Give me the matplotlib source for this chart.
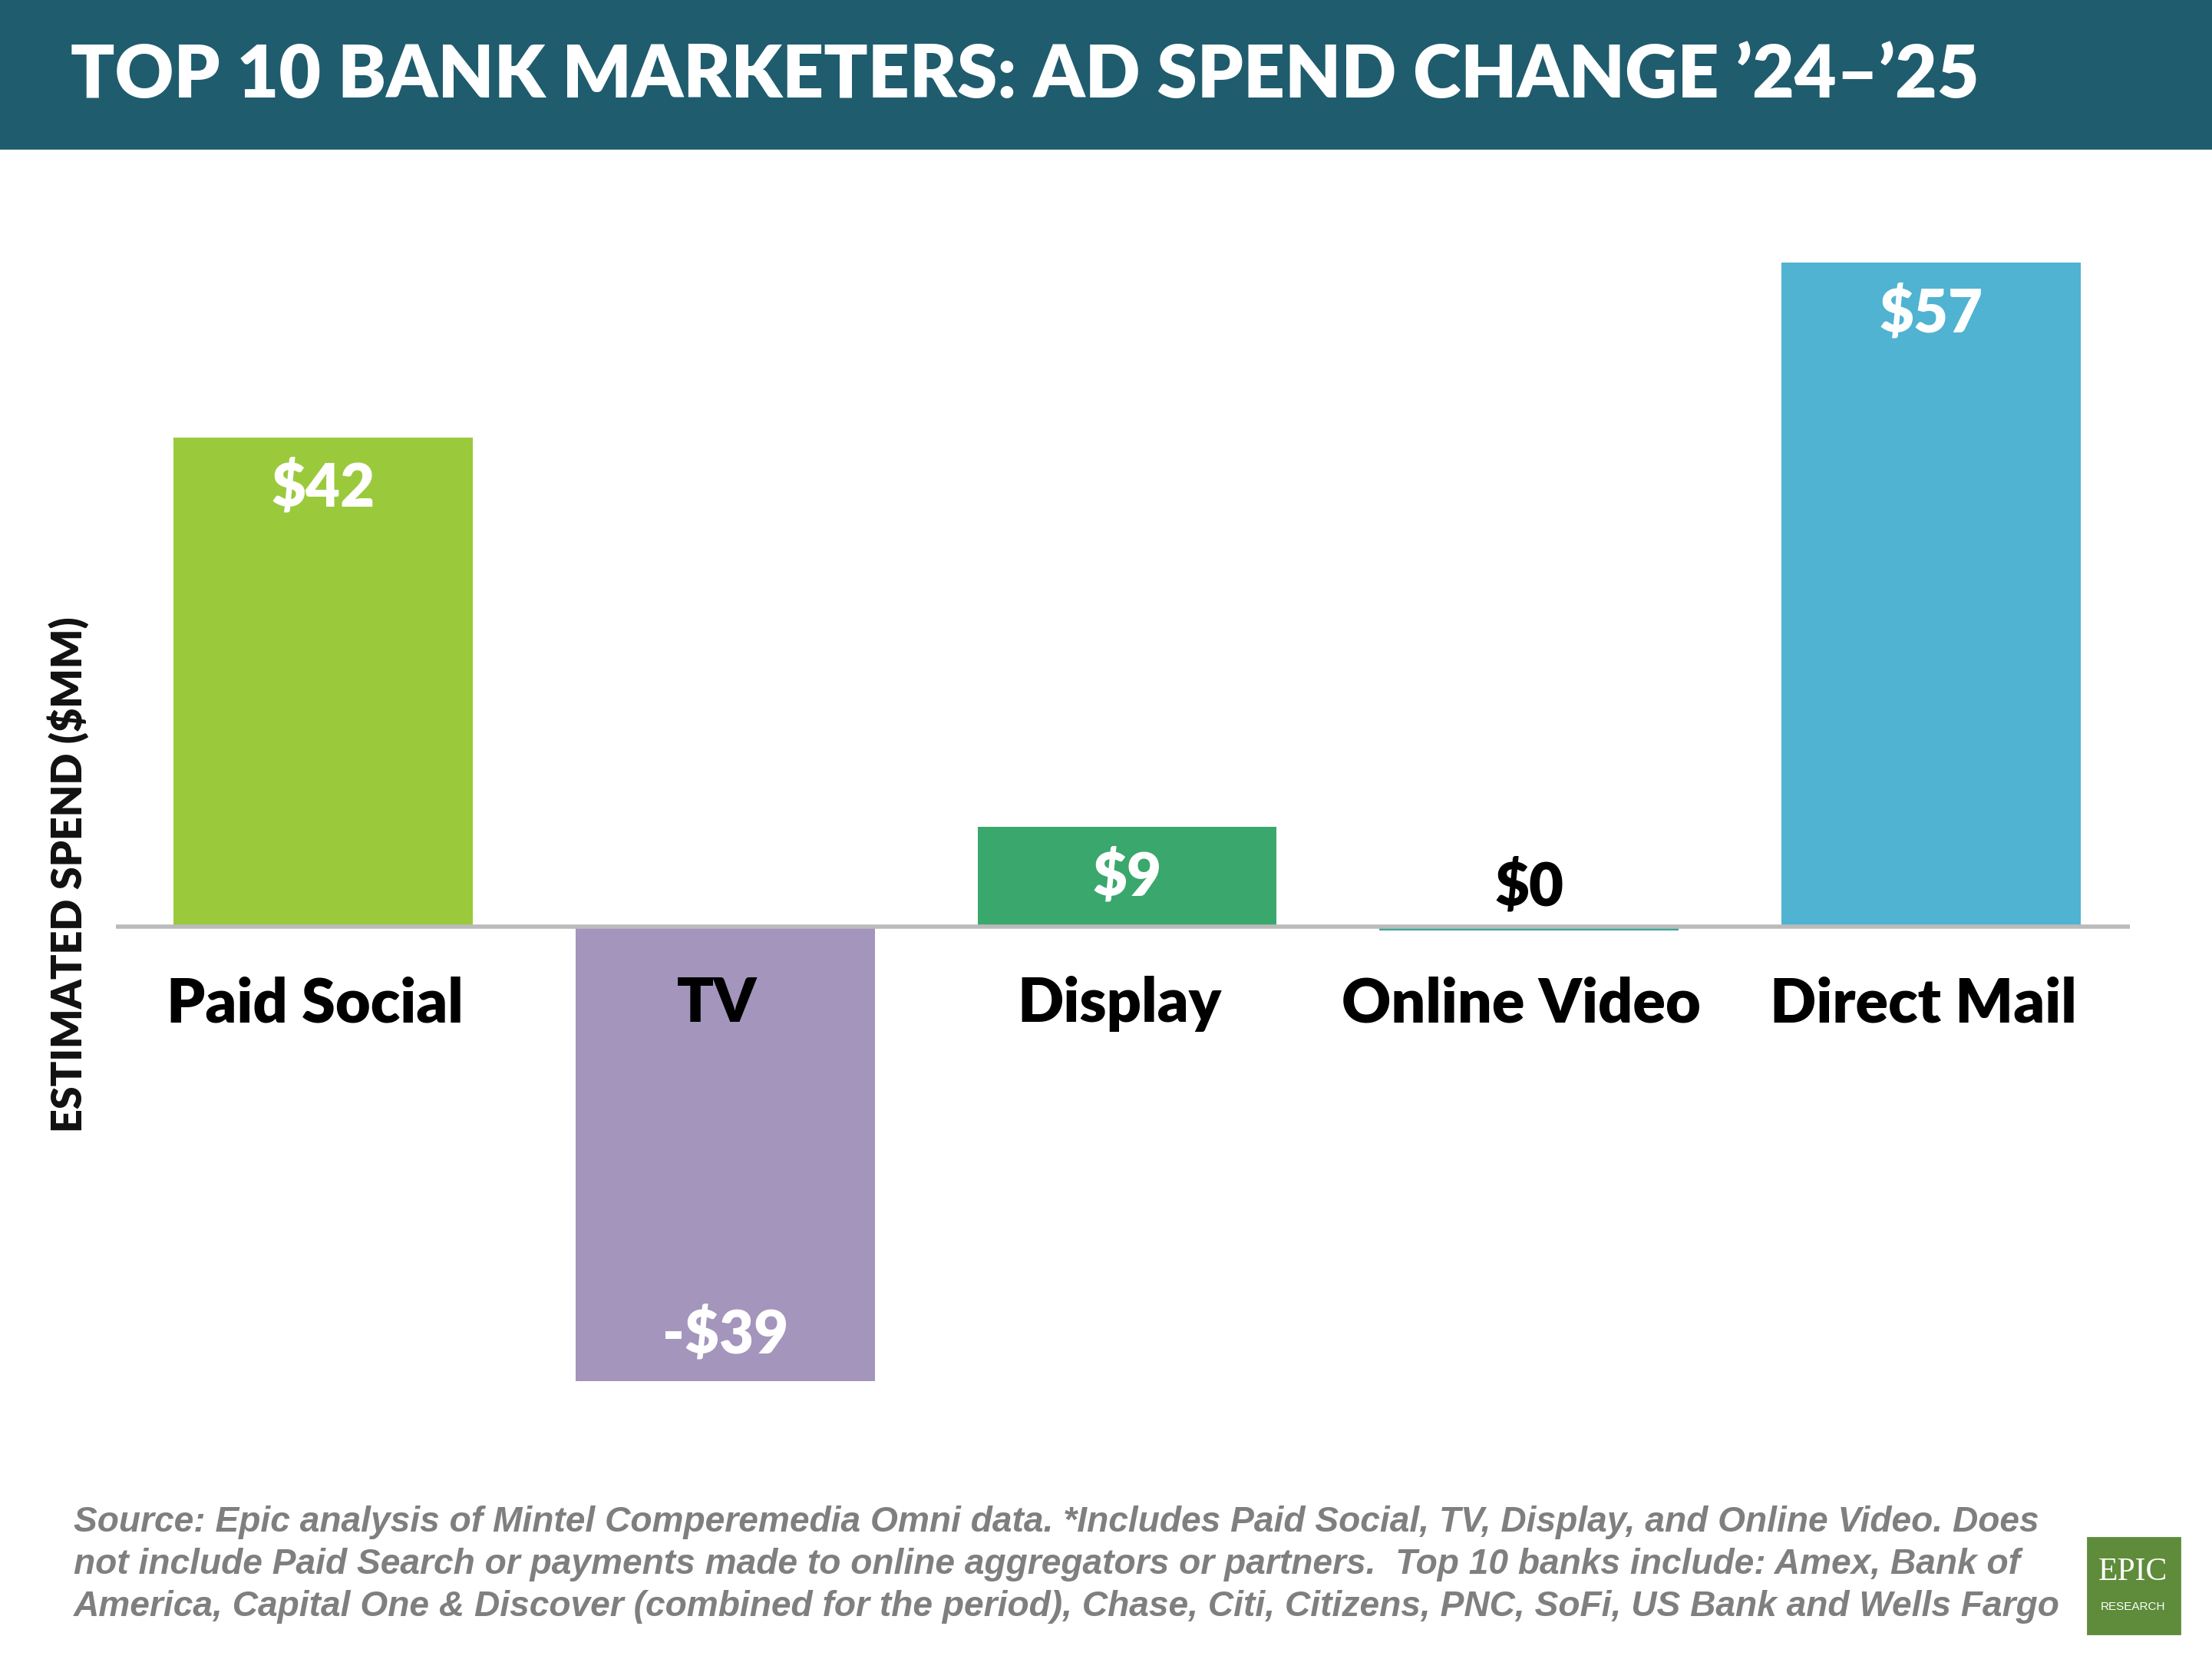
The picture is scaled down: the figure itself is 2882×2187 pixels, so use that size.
import matplotlib
matplotlib.use("Agg")
import matplotlib.pyplot as plt
from matplotlib.patches import Rectangle

categories = ["Paid Social", "TV", "Display", "Online Video", "Direct Mail"]
values = [42, -39, 8.6, -0.3, 57]
labels = ["$42", "-$39", "$9", "$0", "$57"]
colors = ["#9ACA3C", "#A395BC", "#3AA76D", "#3AA79A", "#4FB3D1"]

W, H = 1568, 1190  # layout in reference pixels
fig = plt.figure(figsize=(14.41, 10.935), dpi=200)
fig.patch.set_facecolor("white")

def fx(x):
    return x / W

def fy(y):
    return 1 - y / H

# header band
fig.patches.append(Rectangle((0, fy(105)), 1, 105 / H, transform=fig.transFigure,
                             color="#1F5C6E", zorder=0))
fig.text(fx(50), fy(54), "TOP 10 BANK MARKETERS: AD SPEND CHANGE \u201924\u2013\u201925",
         color="white", fontsize=34, fontweight="heavy", family="Lato", va="center")

# axes: zero line from x=82 to 1510, y pixel 130..1000
ax = fig.add_axes([fx(82), fy(1000), fx(1510 - 82), (1000 - 130) / H])
ax.set_xlim(-0.516, 4.495)
ax.set_ylim(-(1000 - 657) / 8.26, (657 - 130) / 8.26)
ax.axis("off")

x = range(len(categories))
ax.bar(x, values, width=0.744, color=colors, zorder=2)
ax.axhline(0, color="#BBBBBB", lw=2, zorder=3)

for i, (v, lab) in enumerate(zip(values, labels)):
    if abs(v) < 1:
        ax.text(i, 1.0, lab, ha="center", va="bottom", fontsize=28, fontweight="heavy",
                family="Lato", color="black")
    elif v > 0:
        ax.text(i, v - 4.4, lab, ha="center", va="center", fontsize=28, fontweight="heavy",
                family="Lato", color="white")
    else:
        ax.text(i, v + 4.0, lab, ha="center", va="center", fontsize=28, fontweight="heavy",
                family="Lato", color="white")
    ax.text(i - 0.02, -6.6, categories[i], ha="center", va="center", fontsize=28.5,
            fontweight="heavy", family="Lato", color="black", zorder=4)

fig.text(fx(48), fy(620), "ESTIMATED SPEND ($MM)", rotation=90, ha="center", va="center",
         fontsize=19.4, fontweight="heavy", family="Lato", color="#111111")

foot = ["Source: Epic analysis of Mintel Comperemedia Omni data. *Includes Paid Social, TV, Display, and Online Video. Does",
        "not include Paid Search or payments made to online aggregators or partners.  Top 10 banks include: Amex, Bank of",
        "America, Capital One & Discover (combined for the period), Chase, Citi, Citizens, PNC, SoFi, US Bank and Wells Fargo"]
for k, line in enumerate(foot):
    fig.text(fx(52), fy(1079 + 30 * k), line, fontsize=16.6, fontweight="bold", style="italic",
             family="Liberation Sans", color="#7F7F7F", va="center")

# logo
fig.patches.append(Rectangle((fx(1480), fy(1158)), fx(65), 68 / H, transform=fig.transFigure,
                             color="#5E8C3A", zorder=1))
fig.text(fx(1512), fy(1114), "EPIC", color="white", fontsize=15, family="Liberation Serif",
         ha="center", va="center")
fig.text(fx(1512), fy(1139), "RESEARCH", color="white", fontsize=5.5, family="Liberation Sans",
         ha="center", va="center")

fig.savefig("out.png", dpi=200)
